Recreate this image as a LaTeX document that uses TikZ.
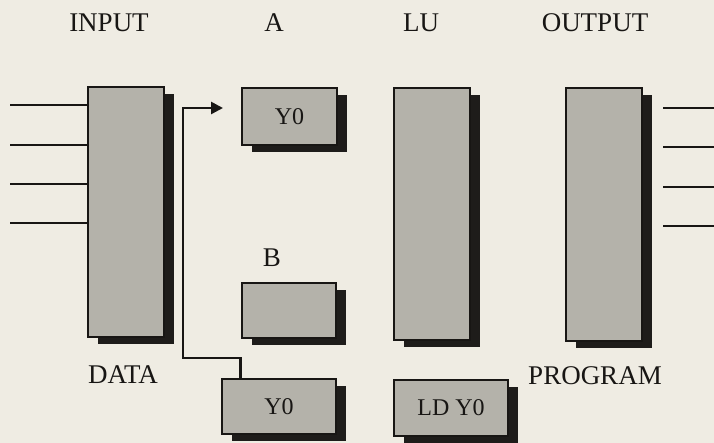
\documentclass[tikz,border=0pt]{standalone}
\usepackage{fontspec}
\setmainfont{Liberation Serif}
\usetikzlibrary{shadows,calc,arrows.meta}
\definecolor{paper}{RGB}{239,236,227}
\definecolor{panel}{RGB}{180,178,170}
\definecolor{shade}{RGB}{30,28,26}
\definecolor{ink}{RGB}{24,22,20}
\begin{document}
\begin{tikzpicture}[x=1pt,y=-1pt,
  blk/.style={draw=ink, line width=2.6pt, fill=panel, rectangle, inner sep=0pt,
    drop shadow={shadow xshift=10pt, shadow yshift=-7pt, fill=shade, opacity=1},
    text=ink, font=\fontsize{24}{24}\selectfont},
  lbl/.style={anchor=base, inner sep=0pt, text=ink, font=\fontsize{27}{27}\selectfont},
  wire/.style={draw=ink, line width=2.6pt},
  arr/.style={wire, -{Triangle[length=12pt,width=12pt]}},
]
% paper
\fill[paper] (0,0) rectangle (714,443);
\useasboundingbox (0,0) rectangle (714,443);

% column headings
\node[lbl] (hin)  at (109,32) {INPUT};
\node[lbl] (ha)   at (274,32) {A};
\node[lbl] (hlu)  at (421,32) {LU};
\node[lbl] (hout) at (595,32) {OUTPUT};
\node[lbl] (hb)   at (272,267) {B};
\node[lbl] (hdata) at (123,383) {DATA};
\node[lbl] (hprog) at (595,384) {PROGRAM};

% blocks
\node[blk, minimum width=76pt, minimum height=250pt] (in)  at (126,212) {};
\node[blk, minimum width=95pt, minimum height=57pt]  (ra)  at (289.5,116.5) {Y0};
\node[blk, minimum width=94pt, minimum height=55pt]  (rb)  at (289,310.5) {};
\node[blk, minimum width=114pt, minimum height=55pt] (y0b) at (279,406.5) {Y0};
\node[blk, minimum width=76pt, minimum height=252pt] (lu)  at (432,214) {};
\node[blk, minimum width=114pt, minimum height=56pt] (ld)  at (451,408) {LD Y0};
\node[blk, minimum width=76pt, minimum height=253pt] (out) at (604,214.5) {};

% input lines
\foreach \k/\y in {1/105,2/145,3/184,4/223}{
  \coordinate (i\k) at (10,\y);
  \draw[wire] (i\k) -- (i\k -| in.west);
}
% output lines
\foreach \k/\y in {1/108,2/147,3/187,4/226}{
  \coordinate (os\k) at (663,\y);
  \coordinate (oe\k) at (714,\y);
  \draw[wire] (os\k) -- (oe\k);
}

% feedback path from the lower Y0 register into A
\coordinate (bend) at (183,358);
\coordinate (tip)  at (223,108);
\draw[arr] ($(y0b.north west)+(20,0)$) |- (bend) |- (tip);
\end{tikzpicture}
\end{document}
